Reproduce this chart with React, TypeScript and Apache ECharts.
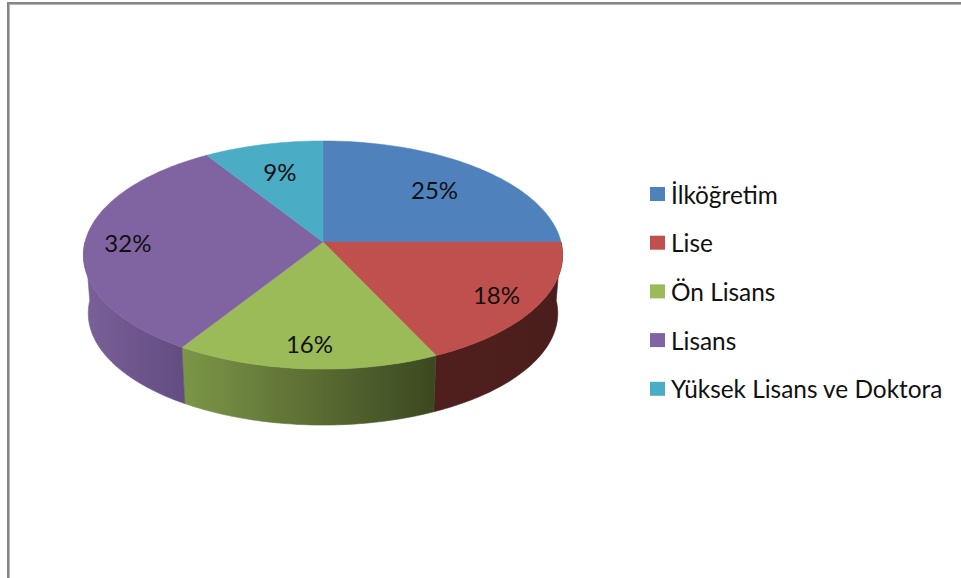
import React, { useEffect, useRef } from "react";
import * as echarts from "echarts";

const categories = ["İlköğretim", "Lise", "Ön Lisans", "Lisans", "Yüksek Lisans ve Doktora"];
const shares = [25, 18, 16, 32, 9];
const topColors = ["#4F81BD", "#C0504D", "#9BBB59", "#8064A2", "#4BACC6"];
const wallStops = [
  ["#3A5F8C", "#3A5F8C"],
  ["#4F1F1D", "#4A1E1C"],
  ["#7C9647", "#3B4820"],
  ["#7A6199", "#624C80"],
  ["#2F7F95", "#2F7F95"],
];
const labelRadius = [0.7, 0.82, 0.82, 0.82, 0.7];

const CX = 323, CY = 242, RX = 238, RY = 112.6, PERSP = 0.114;
const DROP = 58.5, BASE_SCALE = 0.98;
const TOTAL = shares.reduce((a, b) => a + b, 0);

// Perspective projection of a point on the pie's disc (u right, v toward viewer).
function project(u: number, v: number, bottom = false): number[] {
  const w = 1 - PERSP * v;
  const s = bottom ? BASE_SCALE : 1;
  return [CX + (s * RX * u) / w, CY + (bottom ? DROP : 0) + (s * RY * v) / w];
}
function arc(a0: number, a1: number, bottom = false): number[][] {
  const n = Math.max(2, Math.ceil((a1 - a0) / (Math.PI / 180)));
  const pts: number[][] = [];
  for (let i = 0; i <= n; i++) {
    const a = a0 + ((a1 - a0) * i) / n;
    pts.push(project(Math.sin(a), -Math.cos(a), bottom));
  }
  return pts;
}

function makeRender(index: number) {
  return (_params: any, api: any) => {
    const before = shares.slice(0, index).reduce((a, b) => a + b, 0);
    const a0 = (before / TOTAL) * Math.PI * 2;
    const a1 = ((before + api.value(0)) / TOTAL) * Math.PI * 2;
    const children: any[] = [];
    const w0 = Math.max(a0, Math.PI / 2);
    const w1 = Math.min(a1, (Math.PI * 3) / 2);
    if (w1 > w0) {
      const upper = arc(w0, w1);
      const lower = arc(w0, w1, true).reverse();
      const xs = upper.concat(lower).map((p) => p[0]);
      const fill = new echarts.graphic.LinearGradient(
        Math.min(...xs), 0, Math.max(...xs), 0,
        [
          { offset: 0, color: wallStops[index][0] },
          { offset: 1, color: wallStops[index][1] },
        ],
        true
      );
      children.push({
        type: "polygon",
        z2: 1,
        shape: { points: upper.concat(lower) },
        style: { fill, stroke: fill, lineWidth: 0.6 },
      });
    }
    children.push({
      type: "polygon",
      z2: 2,
      shape: { points: [project(0, 0)].concat(arc(a0, a1)) },
      style: { fill: topColors[index], stroke: topColors[index], lineWidth: 0.5 },
    });
    const mid = (a0 + a1) / 2;
    const r = labelRadius[index];
    const [lx, ly] = project(r * Math.sin(mid), -r * Math.cos(mid));
    children.push({
      type: "text",
      z2: 3,
      x: lx,
      y: ly,
      style: {
        text: `${api.value(0)}%`,
        fill: "#111",
        font: "24px Lato",
        textAlign: "center",
        textVerticalAlign: "middle",
      },
    });
    return { type: "group", children };
  };
}

export default function App() {
  const ref = useRef<HTMLDivElement>(null);
  useEffect(() => {
    const chart = echarts.init(ref.current!, null, { renderer: "svg" });
    chart.setOption({
      animation: false,
      backgroundColor: "#fff",
      legend: {
        orient: "vertical",
        left: 645,
        top: 177,
        itemWidth: 15,
        itemHeight: 14,
        itemGap: 24.7,
        icon: "rect",
        data: categories,
        textStyle: { fontFamily: "Lato", fontSize: 24.4, color: "#111", padding: [0, 0, 0, 1] },
      },
      graphic: [
        { type: "rect", shape: { x: 7, y: 2, width: 954, height: 2 }, style: { fill: "#868686" } },
        { type: "rect", shape: { x: 7, y: 4, width: 954, height: 1 }, style: { fill: "#b4b4b4" } },
        { type: "rect", shape: { x: 7, y: 2, width: 2, height: 576 }, style: { fill: "#868686" } },
        { type: "rect", shape: { x: 9, y: 4, width: 1, height: 574 }, style: { fill: "#b4b4b4" } },
      ],
      series: categories.map((name, i) => ({
        type: "custom",
        name,
        coordinateSystem: "none",
        itemStyle: { color: topColors[i] },
        data: [[shares[i]]],
        renderItem: makeRender(i),
      })),
    });
    return () => chart.dispose();
  }, []);
  return <div ref={ref} style={{ position: "fixed", left: 0, top: 0, width: 961, height: 578 }} />;
}
